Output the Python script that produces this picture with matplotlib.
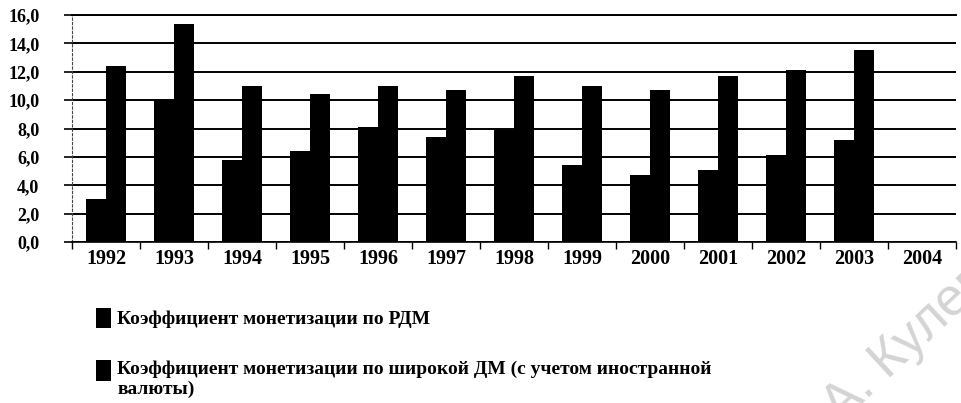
import numpy as np
import matplotlib
matplotlib.use("Agg")
from matplotlib import pyplot as plt
from matplotlib.patches import Patch, Rectangle
from matplotlib.legend_handler import HandlerPatch

# values (2004 has no bars)
years = ["1992", "1993", "1994", "1995", "1996", "1997", "1998",
         "1999", "2000", "2001", "2002", "2003", "2004"]
rdm = [3.0, 10.0, 5.8, 6.4, 8.1, 7.4, 7.9, 5.4, 4.7, 5.1, 6.1, 7.2, np.nan]
broad = [12.4, 15.4, 11.0, 10.4, 11.0, 10.7, 11.7, 11.0, 10.7, 11.7, 12.1, 13.5, np.nan]
y_ticks = [0, 2, 4, 6, 8, 10, 12, 14, 16]
y_labels = ["0,0", "2,0", "4,0", "6,0", "8,0", "10,0", "12,0", "14,0", "16,0"]
labels = ["Коэффициент монетизации по РДМ",
          "Коэффициент монетизации по широкой ДМ (с учетом иностранной\nвалюты)"]

serif = "Liberation Serif"

fig = plt.figure(figsize=(9.62, 4.03), dpi=100)
ax = fig.add_axes([72 / 962, 1 - 242 / 403, (956 - 72) / 962, (242 - 15) / 403])

x = np.arange(len(years))
w = 0.3
ax.bar(x - w / 2, rdm, w, color="black", zorder=3)
ax.bar(x + w / 2, broad, w, color="black", zorder=3)

ax.set_xlim(-0.5, len(years) - 0.5)
ax.set_ylim(0, 16)

ax.set_yticks(y_ticks)
ax.set_yticklabels(y_labels, fontfamily=serif, fontweight="bold", fontsize=13)
ax.yaxis.grid(True, color="black", linewidth=1.4)
ax.set_axisbelow(True)
ax.tick_params(axis="y", length=6, width=1.2, pad=17.5)

ax.set_xticks(x)
ax.set_xticklabels(years, fontfamily=serif, fontweight="bold", fontsize=14.5)
ax.set_xticks(np.arange(len(years) + 1) - 0.5, minor=True)
ax.tick_params(axis="x", which="major", length=0, pad=5)
ax.tick_params(axis="x", which="minor", length=5, width=1)

ax.spines["right"].set_visible(False)
ax.spines["top"].set_linewidth(1.4)
ax.spines["bottom"].set_linewidth(1.2)
ax.spines["left"].set_linestyle((0, (2, 2)))
ax.spines["left"].set_linewidth(0.8)
ax.spines["left"].set_color("#444444")


# second legend square sits next to the first line of its two-line label
def top_line_patch(legend, orig_handle, xdescent, ydescent, width, height, fontsize):
    return Rectangle((-xdescent, -ydescent + 0.45 * fontsize), width, height)


handles = [Patch(facecolor="black"), Patch(facecolor="black")]
fig.legend(handles, labels, loc="upper left", bbox_to_anchor=(78 / 962, 1 - 290 / 403),
           frameon=False, prop={"family": serif, "weight": "bold", "size": 14},
           handlelength=0.82, handleheight=1.25, handletextpad=0.3, labelspacing=1.65,
           handler_map={handles[1]: HandlerPatch(patch_func=top_line_patch)})

# scan watermark
fig.text(0.943, 0.151, "А. Кулев", rotation=43, color="#d4d4d4", fontsize=38,
         family="Liberation Sans", ha="center", va="center")

fig.savefig("out.png", dpi=100)
plt.close(fig)
